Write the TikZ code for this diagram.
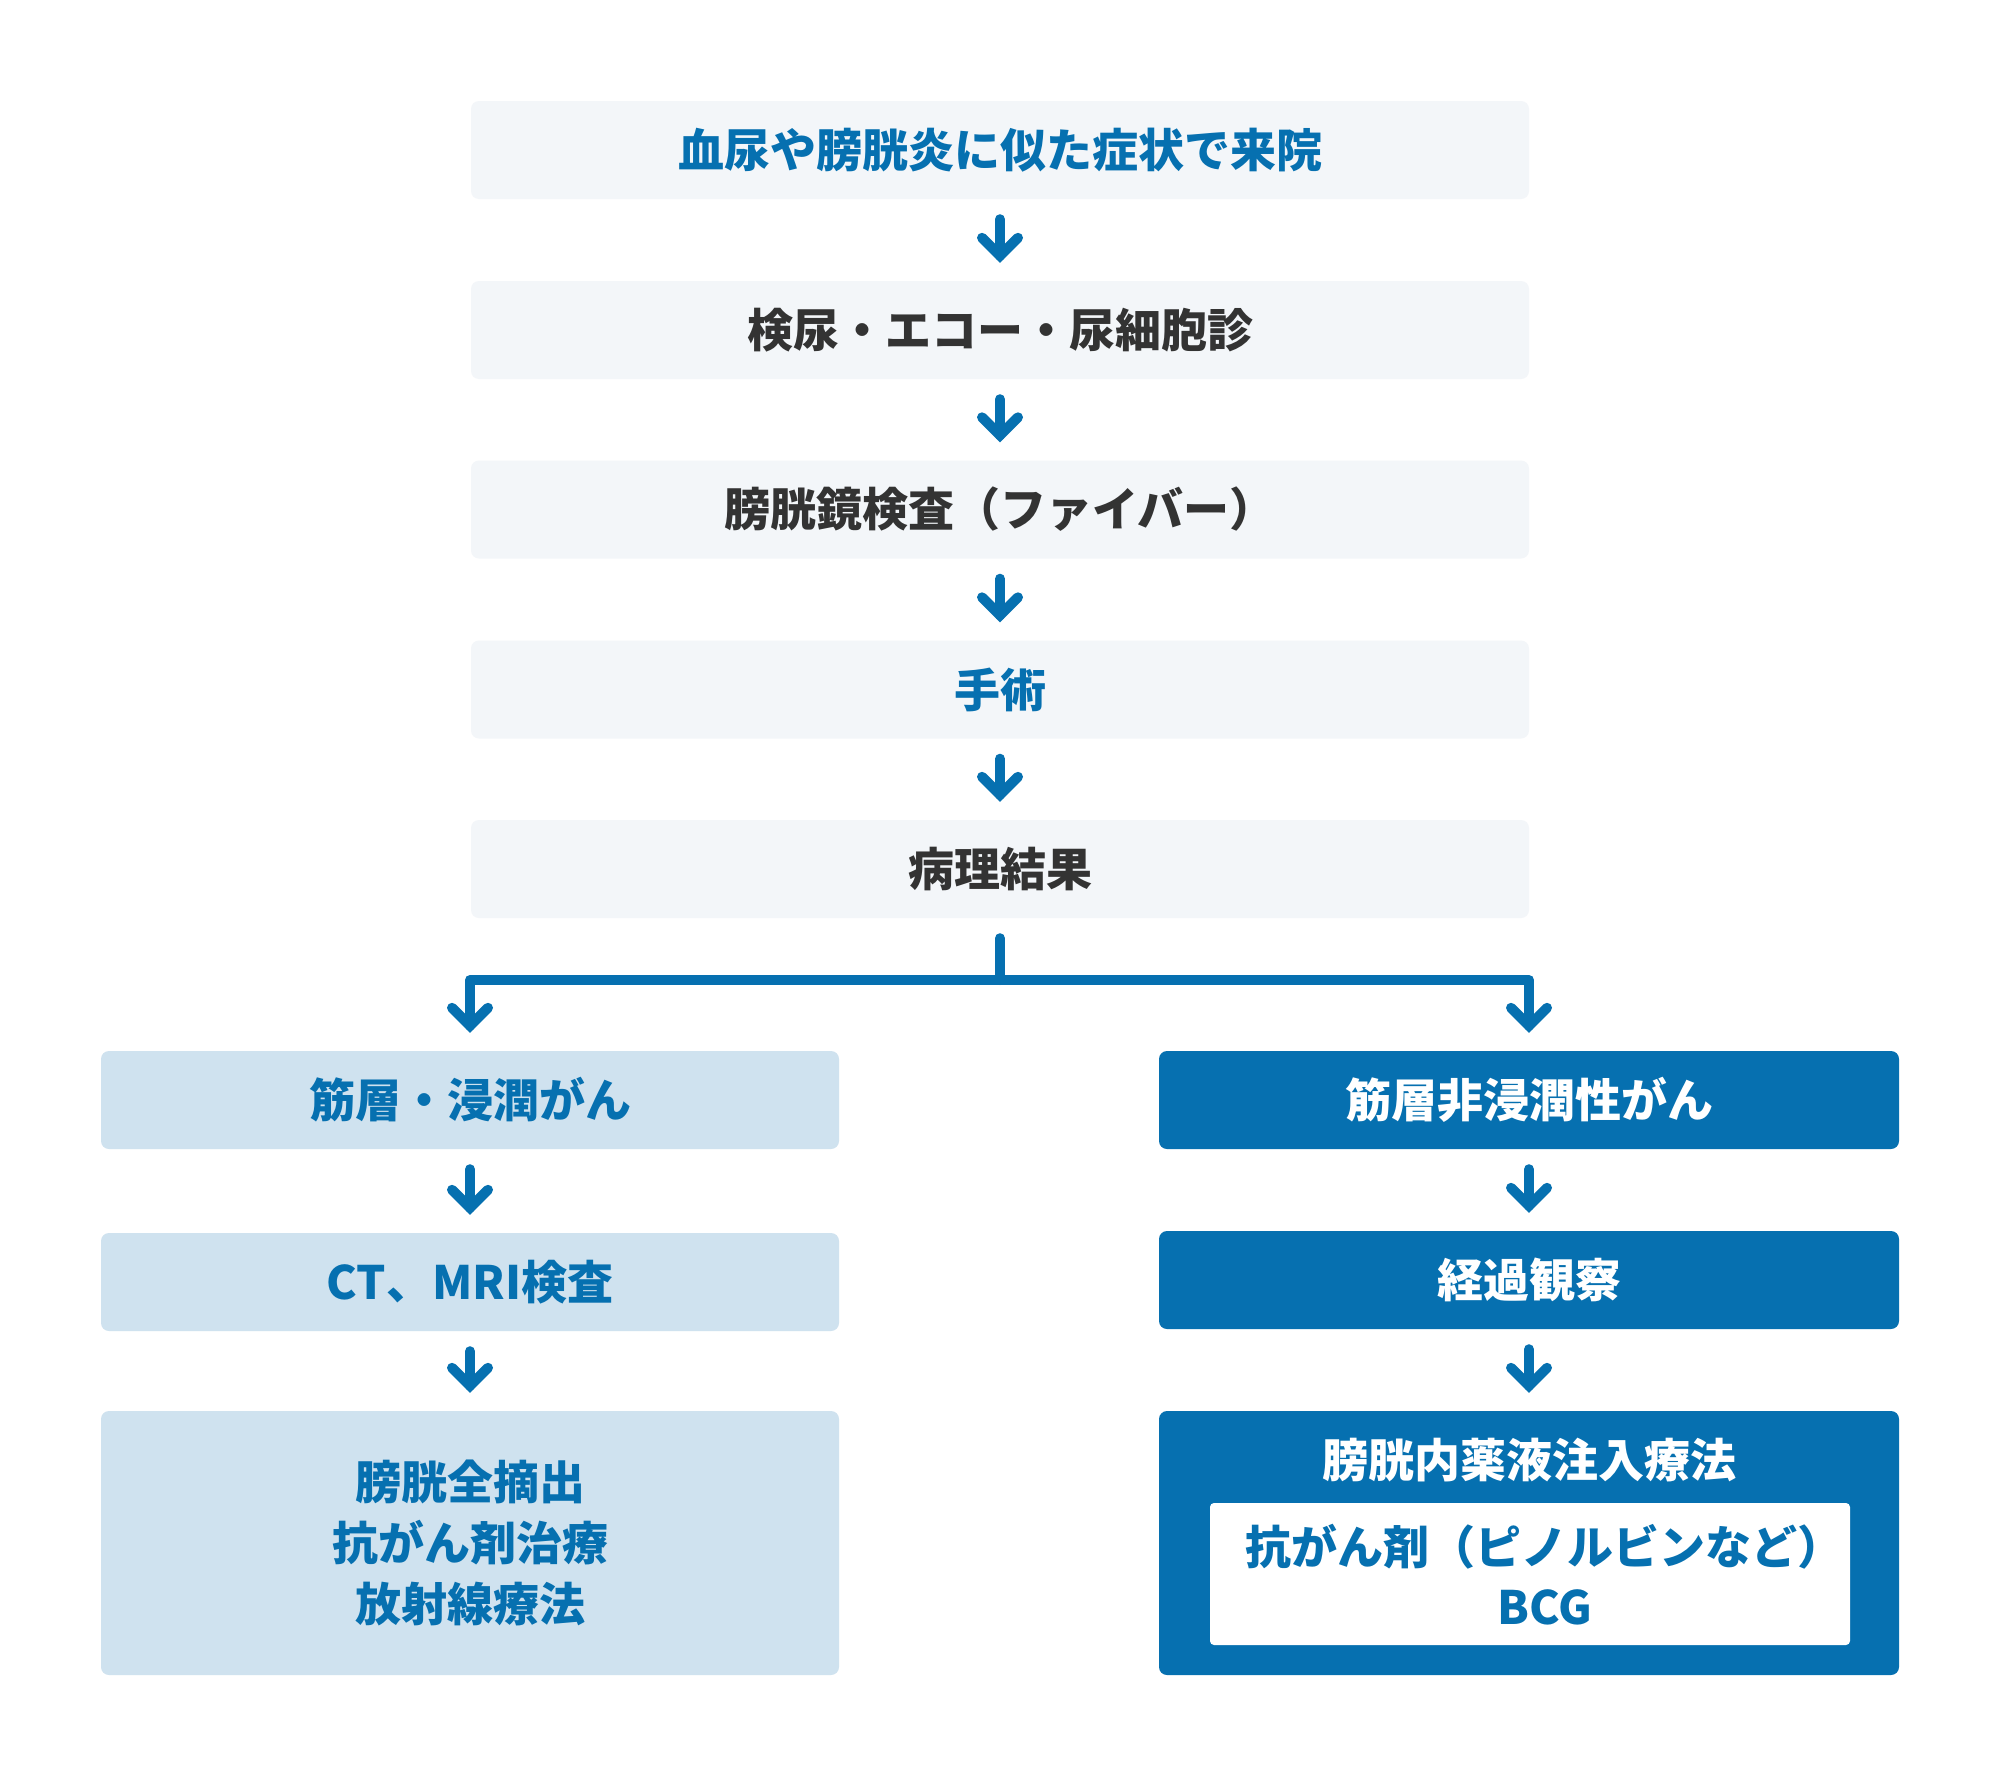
\documentclass[tikz,border=0pt]{standalone}
\usepackage{fontspec}
\setmainfont{Noto Sans CJK JP}
\usetikzlibrary{calc}
\definecolor{cblue}{HTML}{0670B0}
\definecolor{cpale}{HTML}{F3F6F9}
\definecolor{clight}{HTML}{CFE2EF}
\definecolor{cdark}{HTML}{333333}
\begin{document}
\begin{tikzpicture}[x=1pt,y=-1pt,
  txt/.style={font=\fontsize{46}{61}\selectfont\bfseries},
  box/.style={txt, rounded corners=8pt, minimum width=1058pt, minimum height=98pt, inner sep=0pt, align=center},
  palebox/.style={box, fill=cpale},
  lbox/.style={box, fill=clight, text=cblue, minimum width=738pt},
  dbox/.style={box, fill=cblue, text=white, minimum width=740pt},
  stemline/.style={draw=cblue, line width=10pt, line cap=round, line join=round},
  chev/.pic={\draw[cblue, line width=10pt, line cap=round, line join=miter, miter limit=10]
     (-18,-18) -- (0,0) -- (18,-18);}
]
\useasboundingbox[fill=white] (0,0) rectangle (2000,1777);

\node[palebox, text=cblue] (b1) at (1000,150) {血尿や膀胱炎に似た症状で来院};
\node[palebox, text=cdark] (b2) at (1000,330) {検尿・エコー・尿細胞診};
\node[palebox, text=cdark] (b3) at (1000,509.5) {膀胱鏡検査（ファイバー）};
\node[palebox, text=cblue] (b4) at (1000,689.5) {手術};
\node[palebox, text=cdark] (b5) at (1000,869) {病理結果};

\node[lbox] (l1) at (470,1100) {筋層・浸潤がん};
\node[lbox] (l2) at (470,1282) {CT、MRI検査};
\node[lbox, minimum height=264pt] (l3) at (470,1543) {膀胱全摘出\\抗がん剤治療\\放射線療法};

\node[dbox] (r1) at (1529,1100) {筋層非浸潤性がん};
\node[dbox] (r2) at (1529,1280) {経過観察};
\node[dbox, minimum height=264pt] (r3) at (1529,1543) {};
\node[txt, text=white, inner sep=0pt] (r3t) at (1529,1460) {膀胱内薬液注入療法};
\node[fill=white, rounded corners=4pt, minimum width=640pt, minimum height=142pt, inner sep=0pt] (r3i) at (1530,1574) {};
\node[txt, text=cblue, inner sep=0pt] (r3a) at (1544,1547) {抗がん剤（ピノルビンなど）};
\node[txt, text=cblue, inner sep=0pt] (r3b) at (1545,1607) {BCG};

\newcommand\flowarrow[2]{\draw[stemline] ($(#1.south)+(0,20)$) -- ($(#2.north)+(0,-25)$) pic{chev};}
\flowarrow{b1}{b2}
\flowarrow{b2}{b3}
\flowarrow{b3}{b4}
\flowarrow{b4}{b5}
\flowarrow{l1}{l2}
\flowarrow{l2}{l3}
\flowarrow{r1}{r2}
\flowarrow{r2}{r3}

\coordinate (jn) at (1000,980);
\draw[stemline] ($(b5.south)+(0,20)$) -- (jn);
\draw[stemline] (jn) -| ($(l1.north)+(0,-25)$) pic{chev};
\draw[stemline] (jn) -| ($(r1.north)+(0,-25)$) pic{chev};
\end{tikzpicture}
\end{document}
